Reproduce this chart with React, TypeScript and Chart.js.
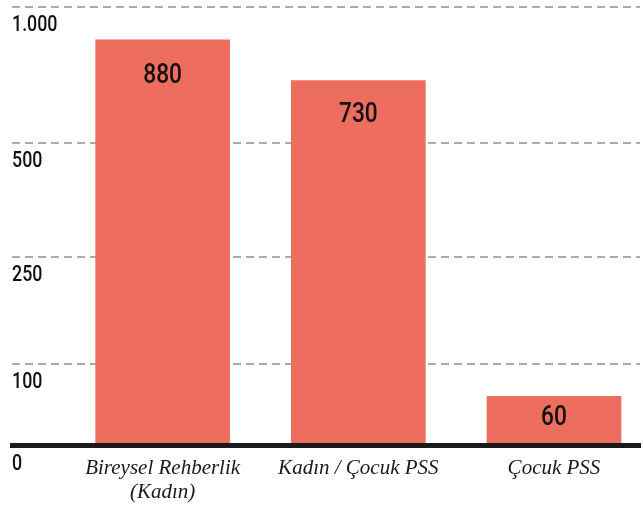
import React, { useEffect, useRef } from "react";
import { Chart, registerables, LinearScale } from "chart.js";

// ---- data ----
const CATEGORIES: string[][] = [["Bireysel Rehberlik", "(Kadın)"], ["Kadın / Çocuk PSS"], ["Çocuk PSS"]];
const VALUES: number[] = [880, 730, 60];
const Y_TICK_VALUES: number[] = [0, 100, 250, 500, 1000];
const Y_TICK_LABELS: string[] = ["0", "100", "250", "500", "1.000"];

// ---- scale configuration (breakpoints of the broken axis) ----
const Y_TICK_FRACTIONS: number[] = [0, 0.187, 0.431, 0.689, 1];

const BAR_COLOR = "#ED6E5F";
const LABEL_FONT = '"Roboto", "DejaVu Sans Condensed", sans-serif';
const CONDENSE = 0.81;

function valueToFraction(v: number): number {
  const n = Y_TICK_VALUES.length;
  if (v <= Y_TICK_VALUES[0]) return Y_TICK_FRACTIONS[0];
  for (let i = 0; i < n - 1; i++) {
    const a = Y_TICK_VALUES[i], b = Y_TICK_VALUES[i + 1];
    if (v <= b || i === n - 2) {
      const t = (v - a) / (b - a);
      return Y_TICK_FRACTIONS[i] + t * (Y_TICK_FRACTIONS[i + 1] - Y_TICK_FRACTIONS[i]);
    }
  }
  return 1;
}
function fractionToValue(f: number): number {
  const n = Y_TICK_FRACTIONS.length;
  for (let i = 0; i < n - 1; i++) {
    const a = Y_TICK_FRACTIONS[i], b = Y_TICK_FRACTIONS[i + 1];
    if (f <= b || i === n - 2) {
      const t = (f - a) / (b - a);
      return Y_TICK_VALUES[i] + t * (Y_TICK_VALUES[i + 1] - Y_TICK_VALUES[i]);
    }
  }
  return Y_TICK_VALUES[n - 1];
}

class BrokenScale extends LinearScale {
  static id = "broken";
  static defaults = LinearScale.defaults;
  getPixelForValue(value: any) {
    if (value === null || value === undefined || isNaN(value)) return NaN;
    return (this as any).getPixelForDecimal(valueToFraction(value));
  }
  getValueForPixel(pixel: number) {
    return fractionToValue((this as any).getDecimalForPixel(pixel));
  }
}

Chart.register(...registerables, BrokenScale);

function condensedText(ctx: any, text: string, x: number, y: number) {
  ctx.save();
  ctx.translate(x, y);
  ctx.scale(CONDENSE, 1);
  ctx.fillText(text, 0, 0);
  ctx.restore();
}

const textLabels = {
  id: "textLabels",
  afterDatasetsDraw(chart: any) {
    const { ctx, chartArea } = chart;
    const yScale = chart.scales.y;
    const meta = chart.getDatasetMeta(0);
    const base = yScale.getPixelForValue(0);
    ctx.save();
    ctx.fillStyle = "#111111";
    ctx.textBaseline = "middle";
    // value labels inside bars
    ctx.font = `500 28px ${LABEL_FONT}`;
    ctx.textAlign = "center";
    meta.data.forEach((bar: any, i: number) => {
      const h = base - bar.y;
      condensedText(ctx, String(VALUES[i]), bar.x, bar.y + 20 + 0.04 * h);
    });
    // y tick labels, below their grid lines
    ctx.font = `500 22px ${LABEL_FONT}`;
    ctx.textAlign = "left";
    yScale.ticks.forEach((t: any, i: number) => {
      const k = Y_TICK_VALUES.indexOf(t.value);
      if (k < 0) return;
      condensedText(ctx, Y_TICK_LABELS[k], chartArea.left, yScale.getPixelForTick(i) + 18.5);
    });
    ctx.restore();
  },
};

export default function App() {
  const ref = useRef<HTMLCanvasElement | null>(null);
  useEffect(() => {
    if (!ref.current) return;
    const chart = new Chart(ref.current, {
      type: "bar",
      data: {
        datasets: [
          {
            data: VALUES.map((v, i) => ({ x: i, y: v })),
            backgroundColor: BAR_COLOR,
            borderWidth: 0,
            barThickness: 134,
          } as any,
        ],
      },
      options: {
        animation: false,
        responsive: true,
        maintainAspectRatio: false,
        events: [],
        layout: { padding: { top: 7, left: 12, right: 3, bottom: 0 } },
        plugins: { legend: { display: false }, tooltip: { enabled: false } },
        scales: {
          x: {
            type: "linear",
            offset: false,
            min: -0.77,
            max: 2.4396,
            afterBuildTicks: (scale: any) => {
              scale.ticks = CATEGORIES.map((_, i) => ({ value: i }));
            },
            afterFit: (scale: any) => {
              scale.height = 63.5;
            },
            grid: { display: false, drawTicks: false, offset: false },
            border: { display: true, color: "#1a1a1a", width: 5, z: 1 },
            ticks: {
              autoSkip: false,
              maxRotation: 0,
              minRotation: 0,
              padding: 11,
              color: "#1a1a1a",
              font: { family: '"Liberation Serif", "DejaVu Serif", serif', size: 21, style: "italic", lineHeight: 1.15 },
              callback: (v: any) => CATEGORIES[Math.round(Number(v))] ?? "",
            },
          } as any,
          y: {
            type: "broken",
            min: 0,
            max: 1000,
            afterBuildTicks: (scale: any) => {
              scale.ticks = Y_TICK_VALUES.map((v) => ({ value: v }));
            },
            afterFit: (scale: any) => {
              scale.width = 0;
              scale.paddingTop = 0;
              scale.paddingBottom = 0;
            },
            grid: {
              drawTicks: false,
              lineWidth: 2,
              color: (ctx: any) => (ctx.tick && ctx.tick.value === 0 ? "rgba(0,0,0,0)" : "#aaaaaa"),
            },
            border: { display: false, dash: [8, 5] },
            ticks: { display: false },
          } as any,
        },
      },
      plugins: [textLabels],
    });
    return () => chart.destroy();
  }, []);
  return (
    <div style={{ position: "fixed", left: 0, top: 0, width: 643, height: 509, background: "#fff" }}>
      <canvas ref={ref} />
    </div>
  );
}
